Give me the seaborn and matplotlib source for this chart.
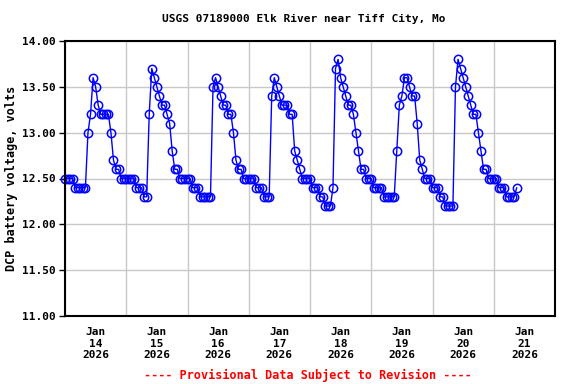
import matplotlib
matplotlib.use("Agg")
import matplotlib.pyplot as plt
import matplotlib.dates as mdates
from matplotlib.ticker import FormatStrFormatter
import seaborn as sns
import pandas as pd
import numpy as np

# Hourly DCP battery voltage readings, starting 2026-01-14 00:00
jan14 = [12.5, 12.5, 12.5, 12.5, 12.4, 12.4, 12.4, 12.4, 12.4, 13.0, 13.2, 13.6,
         13.5, 13.3, 13.2, 13.2, 13.2, 13.2, 13.0, 12.7, 12.6, 12.6, 12.5, 12.5]
jan15 = [12.5, 12.5, 12.5, 12.5, 12.4, 12.4, 12.4, 12.3, 12.3, 13.2, 13.7, 13.6,
         13.5, 13.4, 13.3, 13.3, 13.2, 13.1, 12.8, 12.6, 12.6, 12.5, 12.5, 12.5]
jan16 = [12.5, 12.5, 12.4, 12.4, 12.4, 12.3, 12.3, 12.3, 12.3, 12.3, 13.5, 13.6,
         13.5, 13.4, 13.3, 13.3, 13.2, 13.2, 13.0, 12.7, 12.6, 12.6, 12.5, 12.5]
jan17 = [12.5, 12.5, 12.5, 12.4, 12.4, 12.4, 12.3, 12.3, 12.3, 13.4, 13.6, 13.5,
         13.4, 13.3, 13.3, 13.3, 13.2, 13.2, 12.8, 12.7, 12.6, 12.5, 12.5, 12.5]
jan18 = [12.5, 12.4, 12.4, 12.4, 12.3, 12.3, 12.2, 12.2, 12.2, 12.4, 13.7, 13.8,
         13.6, 13.5, 13.4, 13.3, 13.3, 13.2, 13.0, 12.8, 12.6, 12.6, 12.5, 12.5]
jan19 = [12.5, 12.4, 12.4, 12.4, 12.4, 12.3, 12.3, 12.3, 12.3, 12.3, 12.8, 13.3,
         13.4, 13.6, 13.6, 13.5, 13.4, 13.4, 13.1, 12.7, 12.6, 12.5, 12.5, 12.5]
jan20 = [12.4, 12.4, 12.4, 12.3, 12.3, 12.2, 12.2, 12.2, 12.2, 13.5, 13.8, 13.7,
         13.6, 13.5, 13.4, 13.3, 13.2, 13.2, 13.0, 12.8, 12.6, 12.6, 12.5, 12.5]
jan21 = [12.5, 12.5, 12.4, 12.4, 12.4, 12.3, 12.3, 12.3, 12.3, 12.4]

volts = jan14 + jan15 + jan16 + jan17 + jan18 + jan19 + jan20 + jan21
times = pd.date_range("2026-01-14 00:00", periods=len(volts), freq="h")

title = "USGS 07189000 Elk River near Tiff City, Mo"
ylabel = "DCP battery voltage, volts"
footer = "---- Provisional Data Subject to Revision ----"

sns.set_theme(style="white")
plt.rcParams["font.family"] = ["DejaVu Sans Mono"]
plt.rcParams["font.weight"] = "bold"

fig = plt.figure(figsize=(5.76, 3.84), dpi=100)
ax = fig.add_axes([65 / 576, 1 - 316 / 384, (555 - 65) / 576, (316 - 41) / 384])

df = pd.DataFrame({"time": times, "volts": volts})
sns.lineplot(data=df, x="time", y="volts", ax=ax, color="#0000FF", lw=1,
             marker="o", markersize=6, markerfacecolor="none",
             markeredgecolor="#0000FF", markeredgewidth=1.1, estimator=None)
for ln in ax.lines:
    ln.set_clip_on(False)

ax.set_xlim(pd.Timestamp("2026-01-14"), pd.Timestamp("2026-01-22"))
ax.set_ylim(11, 14)
ax.set_yticks(np.arange(11, 14.01, 0.5))
ax.yaxis.set_major_formatter(FormatStrFormatter("%.2f"))
ax.xaxis.set_major_locator(mdates.HourLocator(byhour=[12]))
ax.xaxis.set_major_formatter(mdates.DateFormatter("%b\n%d\n%Y"))
ax.xaxis.set_minor_locator(mdates.DayLocator())

ax.grid(which="minor", axis="x", color="#C8C8C8", lw=1)
ax.grid(which="major", axis="y", color="#C8C8C8", lw=1)
ax.grid(which="major", axis="x", visible=False)
ax.set_axisbelow(True)

ax.tick_params(axis="x", which="both", length=0, pad=8, labelsize=8)
ax.tick_params(axis="y", which="major", length=4, width=1, color="black",
               direction="out", pad=3, labelsize=8, left=True)
for lab in ax.get_xticklabels() + ax.get_yticklabels():
    lab.set_fontweight("bold")
    lab.set_color("black")
for sp in ax.spines.values():
    sp.set_color("black")
    sp.set_linewidth(1.5)

ax.set_xlabel("")
ax.set_ylabel("")
fig.text(12 / 576, 1 - 178 / 384, ylabel, rotation=90, ha="center", va="center",
         fontsize=8.5, fontweight="bold", color="black")
fig.text(304 / 576, 1 - 19 / 384, title, ha="center", va="center",
         fontsize=8, fontweight="bold", color="black")
fig.text(308 / 576, 1 - 375 / 384, footer, ha="center", va="center",
         fontsize=8.5, fontweight="bold", color="#FF0000")

fig.savefig("out.png", dpi=100, facecolor="white")
